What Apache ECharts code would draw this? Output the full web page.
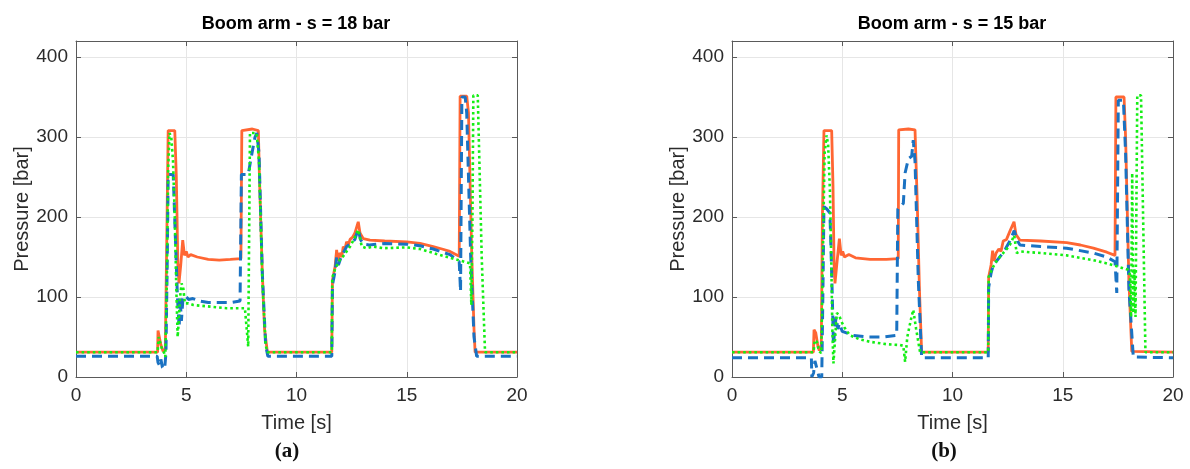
<!DOCTYPE html>
<html>
<head>
<meta charset="utf-8">
<script src="https://cdn.jsdelivr.net/npm/echarts@6/dist/echarts.min.js"></script>
<style>
html, body { margin: 0; padding: 0; background: #fff; }
#main { width: 1190px; height: 469px; }
</style>
</head>
<body>
<div id="main"></div>
<script>
// tick values
const timeTicks = [0, 5, 10, 15, 20];
const pressureTicks = [0, 100, 200, 300, 400];

// (a) s = 18 bar  — [time s, pressure bar]
const leftOrange = [[0,31],[3.7,31],[3.72,58],[3.78,56],[3.85,40],[3.95,32],[4.05,35],[4.13,200],[4.18,308],[4.48,308],[4.55,250],[4.62,140],[4.67,117],[4.75,140],[4.84,171],[4.92,152],[5.0,157],[5.08,150],[5.2,153],[5.5,150],[6.0,147],[6.5,146],[7.0,147],[7.48,148],[7.52,308],[8.0,310],[8.27,308],[8.32,250],[8.45,130],[8.55,60],[8.68,31],[11.6,31],[11.63,121],[11.75,138],[11.82,159],[11.88,145],[11.95,155],[12.05,150],[12.12,163],[12.2,160],[12.27,169],[12.35,165],[12.43,172],[12.55,175],[12.65,180],[12.8,194],[12.88,180],[13.03,173],[13.33,171],[14,170],[15,169],[15.6,167],[16.2,163],[16.6,160],[16.96,157],[17.38,151],[17.42,351],[17.72,351],[17.8,330],[17.95,150],[18.05,60],[18.1,31],[20,31]];
const leftBlue = [[0,26],[3.68,26],[3.72,18],[3.8,14],[3.85,22],[3.92,12],[4.02,10],[4.08,30],[4.14,150],[4.18,253],[4.41,253],[4.5,180],[4.6,100],[4.64,80],[4.68,62],[4.72,100],[4.78,70],[4.85,98],[4.95,102],[5.1,97],[5.3,98],[5.6,95],[6.0,93],[6.5,93],[7.0,93],[7.44,95],[7.5,253],[7.81,253],[7.95,275],[8.05,290],[8.12,300],[8.2,305],[8.3,280],[8.45,130],[8.6,40],[8.7,26],[11.6,26],[11.63,115],[11.75,132],[11.82,150],[11.9,140],[12.0,148],[12.12,155],[12.27,163],[12.43,166],[12.65,172],[12.8,185],[12.9,172],[13.03,166],[13.3,165],[14.0,167],[15.0,166],[15.6,164],[16.2,160],[16.96,153],[17.38,144],[17.44,107],[17.5,350],[17.65,350],[17.72,330],[17.9,150],[18.05,50],[18.17,26],[20,26]];
const leftGreen = [[0,31],[3.7,31],[3.75,50],[3.82,48],[3.9,35],[4.0,30],[4.05,25],[4.12,120],[4.18,260],[4.24,305],[4.32,300],[4.4,270],[4.48,200],[4.55,110],[4.61,50],[4.66,70],[4.72,100],[4.79,117],[4.87,110],[4.94,92],[5.1,92],[5.32,90],[6.08,88],[6.83,86],[7.66,86],[7.81,38],[7.89,305],[8.19,305],[8.3,270],[8.45,120],[8.6,40],[8.68,31],[11.6,31],[11.62,124],[11.75,135],[11.9,143],[12.0,148],[12.12,151],[12.3,158],[12.43,163],[12.6,172],[12.8,184],[12.96,163],[13.17,161],[13.47,163],[13.94,161],[15.0,162],[15.6,160],[16.2,155],[16.96,149],[17.5,145],[17.87,142],[17.93,90],[17.98,200],[18.02,352],[18.22,352],[18.4,150],[18.55,31],[20,31]];

// (b) s = 15 bar
const rightOrange = [[0,31],[3.69,31],[3.72,59],[3.8,55],[3.9,38],[3.96,33],[4.05,40],[4.1,200],[4.17,308],[4.52,308],[4.58,240],[4.63,140],[4.67,117],[4.75,140],[4.87,173],[4.95,152],[5.02,157],[5.1,150],[5.3,153],[5.6,149],[6.26,147],[7.0,147],[7.54,148],[7.56,309],[8.0,310],[8.3,309],[8.4,220],[8.5,110],[8.6,31],[11.62,31],[11.64,125],[11.75,140],[11.82,158],[11.88,145],[11.98,155],[12.1,160],[12.2,157],[12.3,170],[12.45,172],[12.6,182],[12.79,194],[12.88,178],[13.06,171],[14.0,170],[15.18,168],[15.8,165],[16.39,161],[17.0,156],[17.37,152],[17.41,350],[17.78,350],[17.85,300],[18.0,120],[18.13,32],[20,31]];
const rightBlue = [[0,24],[3.6,24],[3.62,0],[3.7,5],[3.76,20],[3.85,18],[3.95,0],[4.07,0],[4.12,100],[4.17,213],[4.3,210],[4.44,205],[4.5,150],[4.55,100],[4.6,40],[4.66,60],[4.72,75],[4.8,60],[4.87,67],[5.0,57],[5.5,52],[6.2,50],[6.86,50],[7.47,52],[7.52,210],[7.77,217],[7.85,255],[8.0,273],[8.15,276],[8.22,296],[8.3,270],[8.45,120],[8.6,24],[11.62,24],[11.64,112],[11.75,130],[11.85,140],[12.0,145],[12.2,152],[12.4,160],[12.6,170],[12.8,183],[12.95,170],[13.06,165],[14.0,163],[15.18,161],[16.39,155],[17.0,150],[17.37,144],[17.45,105],[17.52,346],[17.75,346],[17.85,280],[18.0,110],[18.2,25],[20,24]];
const rightGreen = [[0,31],[3.7,31],[3.75,46],[3.85,44],[3.95,32],[4.05,30],[4.12,150],[4.2,280],[4.29,302],[4.36,290],[4.44,234],[4.5,150],[4.55,60],[4.6,17],[4.68,50],[4.75,80],[4.85,78],[4.95,70],[5.1,62],[5.35,52],[5.8,47],[6.26,44],[7.0,41],[7.62,40],[7.77,39],[7.85,19],[7.95,50],[8.1,70],[8.22,84],[8.35,60],[8.53,31],[11.62,31],[11.64,125],[11.75,132],[11.85,138],[12.0,145],[12.2,152],[12.4,158],[12.6,165],[12.8,177],[12.91,155],[13.06,157],[13.5,156],[14.0,155],[15.18,152],[16.39,146],[17.0,142],[17.5,138],[17.97,134],[18.05,128],[18.1,75],[18.15,255],[18.2,80],[18.25,135],[18.3,75],[18.38,352],[18.55,352],[18.75,31],[20,31]];

const FONT = "'Liberation Sans', Arial, sans-serif";
const AXIS = "#5a5a5a";
const TXT = "#2b2b2b";

const grids = [
	{ left: 76, top: 41, width: 441, height: 336 },
	{ left: 732, top: 41, width: 441, height: 336 }
];

// one bottom + one top x axis, one left + one right y axis for each panel (box with inside ticks)
let xAxes = [];
let yAxes = [];
grids.forEach((g, i) => {
	xAxes.push({
		type: "value", gridIndex: i, min: timeTicks[0], max: timeTicks[timeTicks.length - 1], interval: 5,
		name: "Time [s]", nameLocation: "middle", nameGap: 36,
		nameTextStyle: { fontSize: 20, color: TXT, fontFamily: FONT },
		axisLine: { show: true, onZero: false, lineStyle: { color: AXIS, width: 1 } },
		axisTick: { show: true, inside: true, length: 5, lineStyle: { color: AXIS } },
		axisLabel: { fontSize: 19, color: TXT, fontFamily: FONT, margin: 9 },
		splitLine: { show: true, lineStyle: { color: "#e6e6e6", width: 1 } }
	});
	xAxes.push({
		type: "value", gridIndex: i, position: "top", min: 0, max: 20, interval: 5,
		axisLine: { show: true, onZero: false, lineStyle: { color: AXIS, width: 1 } },
		axisTick: { show: true, inside: true, length: 5, lineStyle: { color: AXIS } },
		axisLabel: { show: false },
		splitLine: { show: false }
	});
	yAxes.push({
		type: "value", gridIndex: i, min: 0, max: 420, interval: 100,
		name: "Pressure [bar]", nameLocation: "middle", nameGap: 43,
		nameTextStyle: { fontSize: 20, color: TXT, fontFamily: FONT },
		axisLine: { show: true, onZero: false, lineStyle: { color: AXIS, width: 1 } },
		axisTick: { show: true, inside: true, length: 5, lineStyle: { color: AXIS } },
		axisLabel: {
			fontSize: 19, color: TXT, fontFamily: FONT, margin: 8,
			formatter: (v) => (pressureTicks.indexOf(v) >= 0 ? String(v) : "")
		},
		splitLine: { show: true, lineStyle: { color: "#e6e6e6", width: 1 } }
	});
	yAxes.push({
		type: "value", gridIndex: i, position: "right", min: 0, max: 420, interval: 100,
		axisLine: { show: true, onZero: false, lineStyle: { color: AXIS, width: 1 } },
		axisTick: { show: true, inside: true, length: 5, lineStyle: { color: AXIS } },
		axisLabel: { show: false },
		splitLine: { show: false }
	});
});

const lineSeries = (data, panel, kind) => {
	const styles = {
		orange: { color: "#ff6633", width: 2.8, type: "solid" },
		blue: { color: "#1a72c2", width: 3, type: [10, 6] },
		green: { color: "#14ee14", width: 2.6, type: [2.6, 3] }
	};
	return {
		type: "line",
		xAxisIndex: panel * 2,
		yAxisIndex: panel * 2,
		data: data,
		showSymbol: false,
		symbol: "none",
		clip: true,
		lineStyle: styles[kind],
		itemStyle: { color: styles[kind].color },
		z: kind === "orange" ? 2 : kind === "blue" ? 3 : 4,
		animation: false
	};
};

const caption = (letter, x) => ({
	text: "{p|(}{b|" + letter + "}{p|)}",
	left: x, top: 441, textAlign: "center", padding: 0,
	textStyle: {
		rich: {
			p: { fontSize: 21, fontFamily: "'Liberation Serif', 'DejaVu Serif', serif", color: "#111" },
			b: { fontSize: 21, fontWeight: "bold", fontFamily: "'Liberation Serif', 'DejaVu Serif', serif", color: "#111" }
		}
	}
});

let chart = echarts.init(document.getElementById("main"), null, { renderer: "canvas" });
let option = {
	backgroundColor: "#ffffff",
	animation: false,
	title: [
		{ text: "Boom arm - s = 18 bar", left: 296, top: 15, textAlign: "center", padding: 0,
			textStyle: { fontSize: 18, fontWeight: "bold", color: "#000", fontFamily: FONT } },
		{ text: "Boom arm - s = 15 bar", left: 952, top: 15, textAlign: "center", padding: 0,
			textStyle: { fontSize: 18, fontWeight: "bold", color: "#000", fontFamily: FONT } },
		caption("a", 287),
		caption("b", 944)
	],
	grid: grids,
	xAxis: xAxes,
	yAxis: yAxes,
	series: [
		lineSeries(leftOrange, 0, "orange"),
		lineSeries(leftBlue, 0, "blue"),
		lineSeries(leftGreen, 0, "green"),
		lineSeries(rightOrange, 1, "orange"),
		lineSeries(rightBlue, 1, "blue"),
		lineSeries(rightGreen, 1, "green")
	]
};
chart.setOption(option);
</script>
</body>
</html>
